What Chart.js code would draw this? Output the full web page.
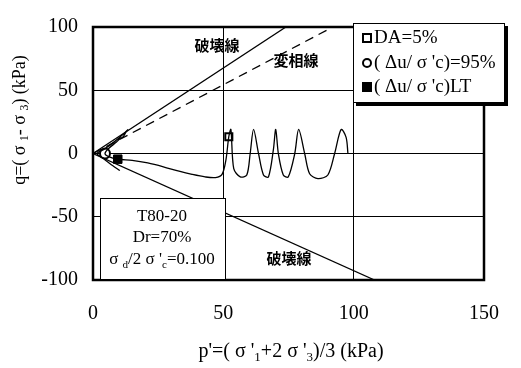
<!DOCTYPE html>
<html>
<head>
<meta charset="utf-8">
<script src="https://cdn.jsdelivr.net/npm/chart.js@4.4.1/dist/chart.umd.min.js"></script>
<style>
  html, body { margin: 0; padding: 0; background: #fff; }
  #wrap { width: 521px; height: 368px; }
</style>
</head>
<body>
<div id="wrap"><canvas id="chart" width="521" height="368"></canvas></div>
<script>
// axis ticks
const xTicks = [0, 50, 100, 150];
const yTicks = [-100, -50, 0, 50, 100];

// effective stress path (p', q)
const pathP = [97.8, 97.1, 95.2, 92.7, 90.1, 86.3, 83.1, 81.2, 78.9, 77.4, 74.9, 73.0, 71.1, 70.1, 69.2, 67.3, 65.4, 63.5, 61.6, 60.3, 59.0, 56.5, 54.0, 52.9, 52.1, 51.0, 49.5, 47.0, 43.0, 38.0, 33.0, 27.0, 21.0, 15.0, 9.5, 6.0, 4.6, 6.0, 9.0, 10.5, 11.5, 12.5, 13.3, 12.0, 8.0, 4.0, 1.5, 4.0, 7.5, 10.3];
const pathQ = [0, 12.8, 19, 0, -17, -19.8, -16, 0, 19, 0, -18.5, -17, 0, 19, 3, -18.5, -17, 0, 19, 0, -17, -18.5, -12, 19, 13.3, -5, -16.5, -19, -18.5, -16.5, -14, -10.5, -7.5, -5.5, -4.5, -2.5, 0, 4, 9, 12, 13, 16.5, 18.8, 16, 9, 3, 0, -4, -9.5, -13.5];

// reference lines (end points)
const failCompP = [0, 74];
const failCompQ = [0, 100];
const phaseP = [0, 92];
const phaseQ = [0, 100];
const failExtP = [0, 108];
const failExtQ = [0, -100];

// markers
const daP = [52.1], daQ = [13.3];           // DA=5%
const ppP = [4.6], ppQ = [0];               // (Δu/σ'c)=95%
const ltP = [9.5], ltQ = [-4.5];            // (Δu/σ'c)LT

const pts = (xs, ys) => xs.map((x, i) => ({ x: x, y: ys[i] }));

const SERIF = "'Liberation Serif', 'Times New Roman', serif";
const CJK = "'Noto Sans CJK JP', sans-serif";

// draw text made of parts, some of them subscript
function richText(ctx, parts, x, y, size, align) {
    let w = 0;
    parts.forEach(p => {
        ctx.font = (p.sub ? size * 0.65 : size) + "px " + SERIF;
        p.w = ctx.measureText(p.t).width;
        w += p.w;
    });
    let cx = align === "center" ? x - w / 2 : x;
    ctx.textAlign = "left";
    ctx.textBaseline = "middle";
    parts.forEach(p => {
        ctx.font = (p.sub ? size * 0.65 : size) + "px " + SERIF;
        ctx.fillText(p.t, cx, p.sub ? y + size * 0.28 : y);
        cx += p.w;
    });
}

const decor = {
    id: "decor",
    beforeDatasetsDraw(chart) {
        const ctx = chart.ctx;
        const a = chart.chartArea;
        ctx.save();
        ctx.strokeStyle = "#000";
        ctx.lineWidth = 2.5;
        ctx.strokeRect(a.left, a.top, a.right - a.left, a.bottom - a.top);
        ctx.restore();
    },
    afterDraw(chart) {
        const ctx = chart.ctx;
        ctx.save();
        ctx.fillStyle = "#000";

        // in-plot labels
        ctx.font = "bold 15px " + CJK;
        ctx.textAlign = "center";
        ctx.textBaseline = "middle";
        ctx.fillText("破壊線", 217, 45);
        ctx.fillText("変相線", 296, 60);
        ctx.fillText("破壊線", 289, 258);

        // axis titles
        richText(ctx, [{ t: "p'=( σ '" }, { t: "1", sub: true }, { t: "+2 σ '" }, { t: "3", sub: true }, { t: ")/3 (kPa)" }], 291, 352, 20, "center");
        ctx.save();
        ctx.translate(20, 120);
        ctx.rotate(-Math.PI / 2);
        richText(ctx, [{ t: "q=( σ " }, { t: "1", sub: true }, { t: "- σ " }, { t: "3", sub: true }, { t: ") (kPa)" }], 0, 0, 18, "center");
        ctx.restore();

        // condition box
        ctx.fillStyle = "#fff";
        ctx.fillRect(100, 198, 125, 82);
        ctx.strokeStyle = "#000";
        ctx.lineWidth = 1;
        ctx.strokeRect(100.5, 198.5, 125, 81);
        ctx.fillStyle = "#000";
        richText(ctx, [{ t: "T80-20" }], 162, 217, 17, "center");
        richText(ctx, [{ t: "Dr=70%" }], 162, 238, 17, "center");
        richText(ctx, [{ t: "σ " }, { t: "d", sub: true }, { t: "/2 σ '" }, { t: "c", sub: true }, { t: "=0.100" }], 162, 260, 17, "center");

        // legend box
        ctx.fillStyle = "#000";
        ctx.fillRect(356, 26, 152, 80);
        ctx.fillStyle = "#fff";
        ctx.fillRect(353, 23, 152, 80);
        ctx.strokeRect(353.5, 23.5, 151, 79);
        const rows = [
            { y: 38, label: [{ t: "DA=5%" }], mark: "sq" },
            { y: 63, label: [{ t: "( Δu/ σ 'c)=95%" }], mark: "ci" },
            { y: 87, label: [{ t: "( Δu/ σ 'c)LT" }], mark: "fs" }
        ];
        rows.forEach(r => {
            ctx.strokeStyle = "#000";
            ctx.fillStyle = "#000";
            ctx.lineWidth = 2;
            if (r.mark === "sq") ctx.strokeRect(363, r.y - 4, 8, 8);
            if (r.mark === "ci") { ctx.beginPath(); ctx.arc(367, r.y, 4, 0, Math.PI * 2); ctx.stroke(); }
            if (r.mark === "fs") ctx.fillRect(362, r.y - 5, 10, 10);
            richText(ctx, r.label, 374, r.y, 19, "left");
        });
        ctx.restore();
    }
};

const gridAt = vals => c => (c.tick && vals.includes(c.tick.value)) ? "#000" : "rgba(0,0,0,0)";

new Chart(document.getElementById("chart"), {
    type: "scatter",
    data: {
        datasets: [
            { data: pts(failCompP, failCompQ), showLine: true, borderColor: "#000", borderWidth: 1.3, pointRadius: 0 },
            { data: pts(phaseP, phaseQ), showLine: true, borderColor: "#000", borderWidth: 1.3, borderDash: [9, 6], pointRadius: 0 },
            { data: pts(failExtP, failExtQ), showLine: true, borderColor: "#000", borderWidth: 1.3, pointRadius: 0 },
            { data: pts(pathP, pathQ), showLine: true, borderColor: "#000", borderWidth: 1.3, tension: 0.3, pointRadius: 0 },
            { data: pts(daP, daQ), pointStyle: "rect", pointRadius: 5, borderWidth: 2, borderColor: "#000", backgroundColor: "#fff" },
            { data: pts(ppP, ppQ), pointStyle: "circle", pointRadius: 5, borderWidth: 2, borderColor: "#000", backgroundColor: "#fff" },
            { data: pts(ltP, ltQ), pointStyle: "rect", pointRadius: 6, borderWidth: 1, borderColor: "#000", backgroundColor: "#000" }
        ]
    },
    options: {
        responsive: false,
        animation: false,
        layout: { padding: { top: 14, right: 33, left: 0, bottom: 0 } },
        plugins: { legend: { display: false }, tooltip: { enabled: false } },
        scales: {
            x: {
                type: "linear", min: 0, max: 150,
                afterBuildTicks: s => { s.ticks = xTicks.map(v => ({ value: v })); },
                afterFit: s => { s.height = 88; },
                ticks: { color: "#000", padding: 22, font: { family: SERIF, size: 20 } },
                grid: { color: gridAt([50, 100]), lineWidth: 1, drawTicks: false },
                border: { display: false }
            },
            y: {
                type: "linear", min: -100, max: 100,
                afterBuildTicks: s => { s.ticks = yTicks.map(v => ({ value: v })); },
                afterFit: s => { s.width = 93; },
                ticks: { color: "#000", padding: 15, font: { family: SERIF, size: 20 } },
                grid: { color: gridAt([-50, 0, 50]), lineWidth: 1, drawTicks: false },
                border: { display: false }
            }
        }
    },
    plugins: [decor]
});
</script>
</body>
</html>
